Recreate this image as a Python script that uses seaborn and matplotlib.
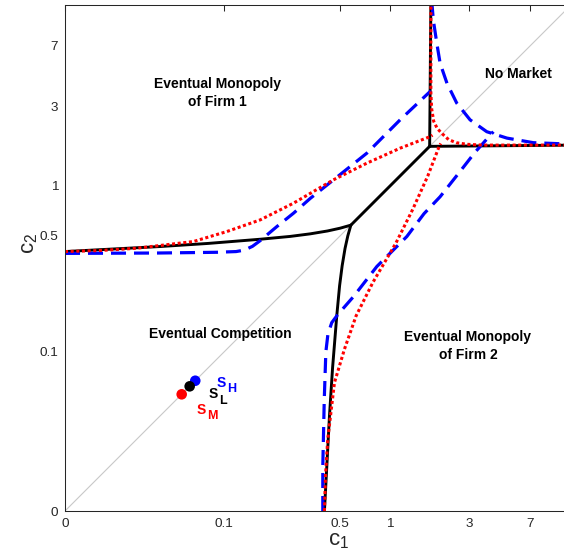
import numpy as np
import pandas as pd
import matplotlib
matplotlib.use("Agg")
import matplotlib.pyplot as plt
import seaborn as sns

sns.set_theme(style="white")
plt.rcParams['font.family'] = ['Liberation Sans', 'DejaVu Sans']
plt.rcParams['mathtext.fontset'] = 'custom'
plt.rcParams['mathtext.rm'] = 'Liberation Sans'
plt.rcParams['mathtext.it'] = 'Liberation Sans'
plt.rcParams['mathtext.default'] = 'regular'

# ---------------- data ----------------
AX_MIN, AX_MAX = 0.011, 12.29
tick_vals = [0.011, 0.1, 0.5, 1, 3, 7]
tick_labels = ['0', '0.1', '0.5', '1', '3', '7']

# S_L (black solid) boundaries
low_comp_c1 = [0.011, 0.02, 0.041, 0.08, 0.165, 0.25, 0.33, 0.42, 0.50, 0.58]
low_comp_c2 = [0.402, 0.415, 0.431, 0.450, 0.477, 0.496, 0.514, 0.535, 0.556, 0.58]
low_diag = [0.58, 1.73]
low_vert_c1 = [1.73, 1.76]
low_vert_c2 = [1.73, 13.0]

# S_M (red dotted) boundaries
mid_mono_c1 = [0.011, 0.018, 0.0298, 0.0653, 0.104, 0.165, 0.262, 0.455, 0.724, 1.149, 1.742, 1.80]
mid_mono_c2 = [0.402, 0.408, 0.421, 0.462, 0.531, 0.624, 0.787, 1.087, 1.37, 1.687, 1.98, 2.02]
mid_nomkt_c1 = [1.76, 1.76, 1.78, 1.83, 1.92, 2.06, 2.25, 2.5, 2.9, 3.6, 13.0]
mid_nomkt_c2 = [13.0, 3.6, 2.9, 2.45, 2.22, 2.06, 1.90, 1.82, 1.78, 1.76, 1.76]

# S_H (blue dashed) boundaries
high_m1_c1 = [0.011, 0.04, 0.09, 0.118, 0.132, 0.148, 0.165, 0.208, 0.262, 0.33, 0.50, 0.724, 1.149, 1.76]
high_m1_c2 = [0.392, 0.394, 0.398, 0.402, 0.41, 0.432, 0.468, 0.569, 0.685, 0.84, 1.17, 1.574, 2.50, 3.74]
high_m2_c1 = [0.393, 0.393, 0.401, 0.410, 0.422, 0.445, 0.482, 0.601, 0.832, 1.26, 1.60, 2.0, 2.55, 3.25, 4.19]
high_m2_c2 = [0.011, 0.0204, 0.0514, 0.100, 0.128, 0.150, 0.167, 0.215, 0.327, 0.495, 0.68, 0.86, 1.17, 1.596, 2.12]
high_nomkt_c1 = [1.78, 1.82, 1.91, 2.0, 2.20, 2.52, 3.03, 3.82, 5.05, 7.3, 13.0]
high_nomkt_c2 = [13.0, 10.0, 7.24, 5.48, 4.15, 3.15, 2.50, 2.12, 1.94, 1.82, 1.78]

# states
state_names = ['S_H', 'S_L', 'S_M']
state_c = [0.067, 0.062, 0.0555]
state_colors = ['#0000ff', '#000000', '#ff0000']

# ---------------- figure ----------------
W, H = 564, 558
fig = plt.figure(figsize=(W / 100, H / 100), dpi=100)
L, B, SIDE = 65, 511, 506
ax = fig.add_axes([L / W, (H - B) / H, SIDE / W, SIDE / H])
ax.set_xscale('log')
ax.set_yscale('log')

def px(xp, yp):
    return ((xp - L) / SIDE, (B - yp) / SIDE)

# diagonal
sns.lineplot(x=[AX_MIN, 13.0], y=[AX_MIN, 13.0], sort=False, estimator=None,
             color='#c8c8c8', linewidth=0.8, ax=ax)

def line(x, y, color, lw, ls):
    sns.lineplot(x=x, y=y, sort=False, estimator=None, color=color,
                 linewidth=lw, linestyle=ls, ax=ax)

k_lw = 2.1
line(low_comp_c1, low_comp_c2, 'black', k_lw, '-')
line(low_comp_c2, low_comp_c1, 'black', k_lw, '-')
line(low_diag, low_diag, 'black', k_lw, '-')
line(low_vert_c1, low_vert_c2, 'black', k_lw, '-')
line(low_vert_c2, low_vert_c1, 'black', k_lw, '-')

b_ls = (0, (4.7, 2.5))
b_lw = 2.3
line(high_m1_c1, high_m1_c2, '#0000ff', b_lw, b_ls)
line(high_m2_c1, high_m2_c2, '#0000ff', b_lw, b_ls)
line(high_nomkt_c1, high_nomkt_c2, '#0000ff', b_lw, b_ls)

r_ls = (0, (1, 0.85))
r_lw = 2.2
line(mid_mono_c1, mid_mono_c2, '#ff0000', r_lw, r_ls)
line(mid_mono_c2, mid_mono_c1, '#ff0000', r_lw, r_ls)
line(mid_nomkt_c1, mid_nomkt_c2, '#ff0000', r_lw, r_ls)

sns.scatterplot(x=state_c, y=state_c, hue=state_names, palette=state_colors,
                s=58, edgecolor='none', linewidth=0, legend=False, zorder=5, ax=ax)

ax.set_xlim(AX_MIN, AX_MAX)
ax.set_ylim(AX_MIN, AX_MAX)
ax.minorticks_off()
ax.set_xticks(tick_vals)
ax.set_xticklabels(tick_labels)
ax.set_yticks(tick_vals)
ax.set_yticklabels(tick_labels)
ax.tick_params(axis='both', which='both', direction='in', length=4.5, width=0.75,
               color='#262626', labelcolor='#262626', labelsize=9.7,
               top=True, right=True)
ax.tick_params(axis='x', pad=5)
ax.tick_params(axis='y', pad=5)
for s in ax.spines.values():
    s.set_color('#262626')
    s.set_linewidth(0.75)
ax.grid(False)

ax.set_xlabel(r'$c_1$', fontsize=16, color='#262626')
ax.set_ylabel(r'$c_2$', fontsize=16, color='#262626')
ax.xaxis.set_label_coords(*px(339, 530))
ax.yaxis.set_label_coords(*px(40, 243))

tk = dict(transform=ax.transAxes, fontsize=10, fontweight='bold', color='black',
          ha='center', va='center', linespacing=1.45)
ax.text(*px(217, 93), 'Eventual Monopoly\nof Firm 1', **tk)
ax.text(*px(518, 74), 'No Market', **tk)
ax.text(*px(220, 334), 'Eventual Competition', **tk)
ax.text(*px(468, 346), 'Eventual Monopoly\nof Firm 2', **tk)

sk = dict(transform=ax.transAxes, fontweight='bold', ha='left', va='baseline')
ax.text(*px(217, 386.7), 'S', fontsize=10, color='#0000ff', **sk)
ax.text(*px(227.5, 392), 'H', fontsize=9, color='#0000ff', **sk)
ax.text(*px(208.3, 398.5), 'S', fontsize=10, color='black', **sk)
ax.text(*px(219, 403.5), 'L', fontsize=9, color='black', **sk)
ax.text(*px(196.7, 414.5), 'S', fontsize=10, color='#ff0000', **sk)
ax.text(*px(207, 419), 'M', fontsize=9, color='#ff0000', **sk)

fig.savefig('out.png', dpi=100)
